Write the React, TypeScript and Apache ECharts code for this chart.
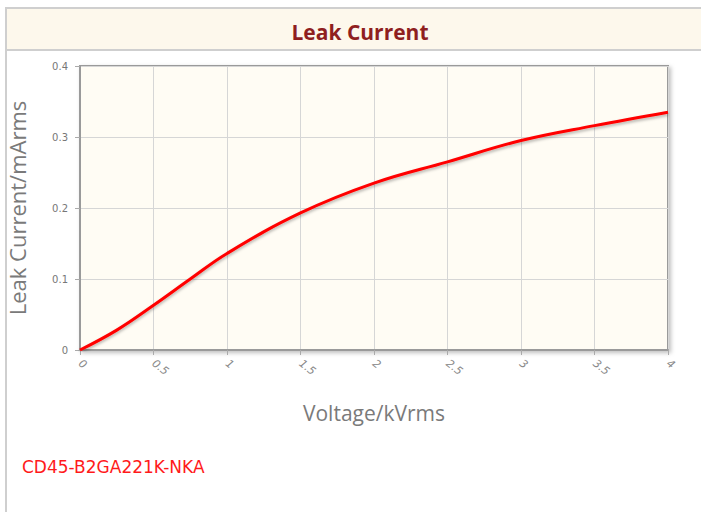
import React, { useEffect, useRef } from "react";
import * as echarts from "echarts";

const voltage = [0, 0.25, 0.5, 0.75, 1, 1.5, 2, 2.5, 3, 3.5, 4];
const leakCurrent = [0, 0.028, 0.063, 0.1, 0.136, 0.193, 0.235, 0.265, 0.295, 0.316, 0.335];
const xTicks = [0, 0.5, 1, 1.5, 2, 2.5, 3, 3.5, 4];
const yTicks = [0, 0.1, 0.2, 0.3, 0.4];
const chartTitle = "Leak Current";
const xName = "Voltage/kVrms";
const yName = "Leak Current/mArms";
const partNumber = "CD45-B2GA221K-NKA";

export default function App() {
  const ref = useRef<HTMLDivElement>(null);
  useEffect(() => {
    if (!ref.current) return;
    const chart = echarts.init(ref.current, undefined, { renderer: "svg" });
    chart.setOption({
      animation: false,
      backgroundColor: "#ffffff",
      title: {
        text: chartTitle,
        left: 355,
        textAlign: "center",
        top: 16,
        textStyle: { color: "#8f1f1f", fontSize: 21, fontWeight: "bold", fontFamily: "Open Sans" },
      },
      graphic: [
        { type: "rect", shape: { x: 6, y: 8, width: 700, height: 42 }, style: { fill: "#fdf8ec", stroke: "#cfcfcf", lineWidth: 2 }, z: -1 },
        { type: "line", shape: { x1: 6, y1: 8, x2: 6, y2: 512 }, style: { stroke: "#cfcfcf", lineWidth: 2 } },
        { type: "text", x: 22, y: 458, style: { text: partNumber, fill: "#ff1a1a", fontSize: 17, fontFamily: "DejaVu Sans" } },
      ],
      grid: {
        left: 80, right: 33, top: 66, bottom: 162,
        outerBoundsMode: "none",
        containLabel: false,
        show: true,
        backgroundColor: "#fffcf4",
        borderColor: "#9a9a9a",
        borderWidth: 2,
        shadowColor: "rgba(0,0,0,0.25)",
        shadowBlur: 4,
        shadowOffsetX: 2,
        shadowOffsetY: 2,
      },
      xAxis: {
        type: "value",
        min: 0, max: 4, interval: 0.5,
        name: xName,
        nameLocation: "middle",
        nameGap: 52,
        nameTextStyle: { color: "#7a7a7a", fontSize: 21, fontFamily: "Open Sans" },
        axisLine: { show: true, lineStyle: { color: "#9a9a9a", width: 2 } },
        axisTick: { show: true, length: 5, lineStyle: { color: "#aaaaaa" } },
        axisLabel: {
          rotate: -38, margin: 12, color: "#888888", fontSize: 11, fontStyle: "italic", fontFamily: "DejaVu Sans",
          formatter: (v: number) => (xTicks.includes(v) ? String(v) : ""),
        },
        splitLine: { show: true, lineStyle: { color: "#d6d6d6", width: 1 } },
      },
      yAxis: {
        type: "value",
        min: 0, max: 0.4, interval: 0.1,
        name: yName,
        nameLocation: "middle",
        nameGap: 52,
        nameTextStyle: { color: "#7a7a7a", fontSize: 22, fontFamily: "Open Sans" },
        axisLine: { show: true, lineStyle: { color: "#9a9a9a", width: 2 } },
        axisTick: { show: true, length: 5, lineStyle: { color: "#aaaaaa" } },
        axisLabel: {
          margin: 12, color: "#777777", fontSize: 10, fontFamily: "DejaVu Sans",
          formatter: (v: number) => (yTicks.some((t) => Math.abs(t - v) < 1e-9) ? String(Math.round(v * 10) / 10) : ""),
        },
        splitLine: { show: true, lineStyle: { color: "#d6d6d6", width: 1 } },
      },
      series: [
        {
          type: "line",
          data: voltage.map((v, i) => [v, leakCurrent[i]]),
          smooth: 0.4,
          showSymbol: false,
          lineStyle: { color: "#ff0000", width: 3, shadowColor: "rgba(0,0,0,0.3)", shadowBlur: 3, shadowOffsetY: 2 },
        },
      ],
    });
    return () => chart.dispose();
  }, []);
  return <div ref={ref} style={{ position: "fixed", left: 0, top: 0, width: 701, height: 512 }} />;
}
